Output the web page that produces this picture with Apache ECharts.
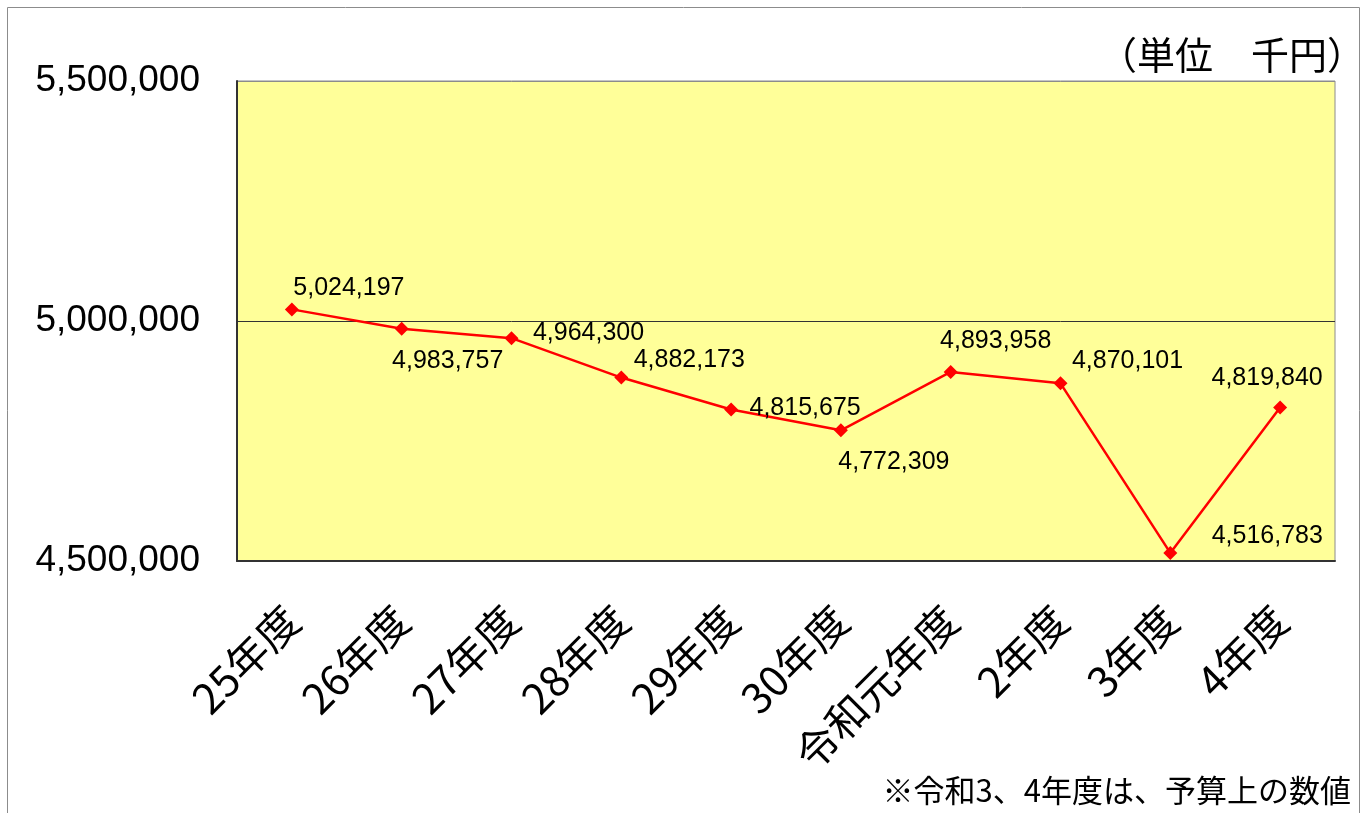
<!DOCTYPE html>
<html>
<head>
<meta charset="utf-8">
<style>
html, body { margin: 0; padding: 0; background: #fff; }
#main { width: 1367px; height: 813px; }
</style>
<script src="https://cdn.jsdelivr.net/npm/echarts@6/dist/echarts.min.js"></script>
</head>
<body>
<div id="main"></div>
<script>
// データ（単位 千円）
var years = ['25年度', '26年度', '27年度', '28年度', '29年度', '30年度', '令和元年度', '2年度', '3年度', '4年度'];
var amounts = [5024197, 4983757, 4964300, 4882173, 4815675, 4772309, 4893958, 4870101, 4516783, 4819840];
var yTicks = [4500000, 5000000, 5500000];

// ラベルのずらし量（点の中心から）
var labelOffsets = [[57, -21], [46, 32], [77, -5], [68, -17], [74, -1], [53, 32], [45, -31], [67, -22], [97, -17], [-13, -29]];

var jpFont = '"Noto Sans CJK JP", "Noto Sans", sans-serif';
var numFont = '"Liberation Sans", Arial, sans-serif';
var myChart = echarts.init(document.getElementById('main'));

var seriesData = amounts.map(function (v, i) {
    return {
        value: v,
        label: { offset: labelOffsets[i] }
    };
});

var option = {
    animation: false,
    textStyle: { fontFamily: jpFont },
    graphic: [
        {
            type: 'rect',
            shape: { x: 7.5, y: 7.5, width: 1352, height: 820 },
            style: { fill: 'none', stroke: '#8c8c8c', lineWidth: 1 },
            z: -10
        },
        {
            type: 'text',
            right: 2, top: 36,
            style: { text: '（単位　千円）', font: '38px ' + jpFont, fill: '#000' }
        },
        {
            type: 'text',
            right: 16, top: 775,
            style: { text: '※令和3、4年度は、予算上の数値', font: '31px ' + jpFont, fill: '#000' }
        }
    ],
    grid: {
        left: 237, right: 32, top: 81, bottom: 252,
        show: true,
        backgroundColor: '#FFFF99',
        borderColor: '#8c8c8c',
        borderWidth: 1
    },
    xAxis: {
        type: 'category',
        data: years,
        boundaryGap: true,
        axisLine: { lineStyle: { color: '#333', width: 2 } },
        axisTick: { inside: true, length: 12, lineStyle: { color: '#333', width: 1 } },
        axisLabel: {
            rotate: 45,
            margin: 52,
            fontSize: 42,
            color: '#000',
            fontFamily: jpFont
        }
    },
    yAxis: {
        type: 'value',
        min: 4500000,
        max: 5500000,
        interval: 500000,
        axisLine: { show: true, lineStyle: { color: '#333', width: 2 } },
        axisTick: { show: false },
        splitLine: { show: true, lineStyle: { color: ['#333', '#333', '#8c8c8c'], width: 1 } },
        axisLabel: {
            margin: 37,
            fontSize: 37,
            color: '#000',
            fontFamily: numFont,
            padding: [6, 0, 0, 0],
            customValues: yTicks,
            formatter: function (v) { return v.toLocaleString('en-US'); }
        }
    },
    series: [{
        type: 'line',
        data: seriesData,
        symbol: 'diamond',
        symbolSize: 14,
        lineStyle: { color: '#FF0000', width: 2.5 },
        itemStyle: { color: '#FF0000' },
        label: {
            show: true,
            position: 'inside',
            align: 'center',
            verticalAlign: 'middle',
            fontSize: 25,
            color: '#000',
            fontFamily: numFont,
            formatter: function (p) { return p.value.toLocaleString('en-US'); }
        }
    }]
};

myChart.setOption(option);

window.addEventListener('resize', () => {
    myChart.resize();
});
</script>
</body>
</html>
